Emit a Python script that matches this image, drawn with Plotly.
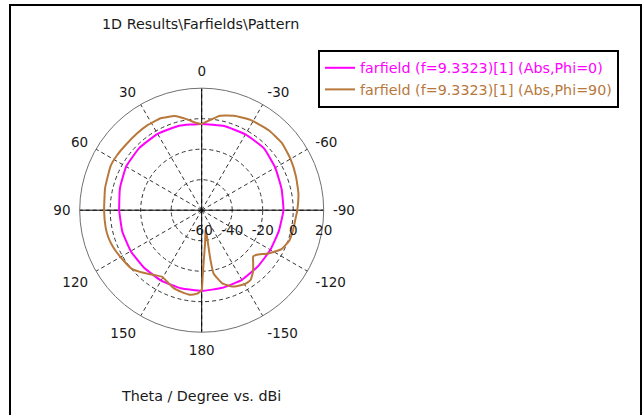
import plotly.graph_objects as go

# ---------------- data ----------------
phi0_theta = [-180, -165, -150, -135, -120, -105, -90, -75, -60, -45, -30, -15,
              0, 15, 30, 45, 60, 75, 90, 105, 120, 135, 150, 165, 180]
phi0_gain = [-7.1, -7.3, -7.3, -7.9, -8.0, -7.6, -6.4, -5.8, -4.3, -2.4, -2.6, -2.9,
             -3.4, -2.7, -2.2, -2.2, -2.8, -4.5, -5.9, -6.1, -6.3, -6.6, -6.7, -7.0, -7.1]

phi90_theta = [-180, -179.3, -178, -174.3, -167.6, -170, -169.4, -164.3, -158.1, -150,
               -145, -140, -136, -132, -129, -123, -116, -109, -102, -95,
               -90, -80, -70, -60, -50, -40, -29, -19, -11, -5,
               0, 4, 9, 16, 24, 32, 40, 49, 57, 64,
               77, 90, 100, 106, 112, 120, 130, 137, 145, 149,
               154, 160, 166, 172, 177, 180]
phi90_gain = [-7.7, -15.3, -25.0, -37.9, -48.0, -27.7, -17.8, -10.2, -6.0, -3.9,
              -4.1, -7.6, -11.4, -14.6, -13.6, -7.9, -1.7, 0.8, 1.3, 1.8,
              2.7, 4.4, 5.7, 7.2, 8.6, 8.4, 7.4, 5.5, 3.1, -0.8,
              -3.4, -2.5, 0.3, 4.2, 6.0, 6.1, 5.8, 5.7, 6.2, 6.4,
              5.0, 4.0, 4.0, 3.8, 3.0, 1.5, -0.2, -3.9, -7.8, -9.2,
              -8.0, -5.8, -4.8, -4.0, -5.2, -7.7]

series_names = ["farfield (f=9.3323)[1] (Abs,Phi=0)",
                "farfield (f=9.3323)[1] (Abs,Phi=90)"]
series_colors = ["#FF00FF", "#B8783C"]

angular_tickvals = [0, 30, 60, 90, 120, 150, 180, 210, 240, 270, 300, 330]
angular_ticktext = ["0", "30", "60", "90", "120", "150", "180",
                    "-150", "-120", "-90", "-60", "-30"]
radial_tickvals = [-60, -40, -20, 0, 20]
radial_ticktext = ["-60", "-40", "-20", "0", "20"]
R_MIN, R_MAX = -60, 20

title_text = "1D Results\\Farfields\\Pattern"
footer_text = "Theta / Degree vs. dBi"

# ---------------- figure ----------------
W, H = 644, 415
FONT = "DejaVu Sans"
TXT = "#1a1a1a"
TXT_SIZE = 14.3
TICK_SIZE = 13.5

fig = go.Figure()

# solid axis cross (0-180 and 90/-90 lines)
fig.add_trace(go.Scatterpolar(r=[R_MAX, R_MIN, R_MAX], theta=[0, 0, 180], mode="lines",
                              line=dict(color="#000000", width=1),
                              showlegend=False, hoverinfo="skip"))
fig.add_trace(go.Scatterpolar(r=[R_MAX, R_MIN, R_MAX], theta=[90, 90, 270], mode="lines",
                              line=dict(color="#000000", width=1),
                              showlegend=False, hoverinfo="skip"))

for name, col, th, g in [(series_names[0], series_colors[0], phi0_theta, phi0_gain),
                         (series_names[1], series_colors[1], phi90_theta, phi90_gain)]:
    fig.add_trace(go.Scatterpolar(
        r=g, theta=th, mode="lines",
        name=f'<span style="color:{col}">{name}</span>',
        line=dict(color=col, width=2, shape="spline", smoothing=0.4)))

cx, cy, rad = 201.7, 210.2, 122
fig.update_layout(
    width=W, height=H,
    margin=dict(l=0, r=0, t=0, b=0),
    paper_bgcolor="white",
    font=dict(family=FONT, size=TXT_SIZE, color=TXT),
    polar=dict(
        domain=dict(x=[(cx - rad) / W, (cx + rad) / W],
                    y=[(H - cy - rad) / H, (H - cy + rad) / H]),
        bgcolor="white",
        angularaxis=dict(rotation=90, direction="counterclockwise",
                         tickmode="array", tickvals=angular_tickvals,
                         ticktext=angular_ticktext,
                         showline=True, linecolor="#707070", linewidth=1,
                         ticks="outside", ticklen=6, tickcolor="rgba(0,0,0,0)",
                         gridcolor="#333333", griddash="4px,3px", gridwidth=1,
                         tickfont=dict(family=FONT, size=TICK_SIZE, color=TXT)),
        radialaxis=dict(range=[R_MIN, R_MAX], tickmode="array",
                        tickvals=radial_tickvals, ticktext=radial_ticktext,
                        angle=0, side="clockwise",
                        tickangle=0, showline=False,
                        ticks="outside", ticklen=8, tickcolor="rgba(0,0,0,0)",
                        gridcolor="#333333", griddash="4px,3px", gridwidth=1,
                        tickfont=dict(family=FONT, size=TICK_SIZE, color=TXT)),
    ),
    legend=dict(x=318 / W, y=1 - 50 / H, xanchor="left", yanchor="top",
                bordercolor="#000000", borderwidth=2, bgcolor="white",
                font=dict(family=FONT, size=TXT_SIZE), itemwidth=30,
                tracegroupgap=0),
    showlegend=True,
    annotations=[
        dict(text=title_text, x=200.5 / W, y=1 - 24 / H, xref="paper", yref="paper",
             xanchor="center", yanchor="middle", showarrow=False,
             font=dict(family=FONT, size=TXT_SIZE, color=TXT)),
        dict(text=footer_text, x=201 / W, y=1 - 396 / H, xref="paper", yref="paper",
             xanchor="center", yanchor="middle", showarrow=False,
             font=dict(family=FONT, size=TXT_SIZE, color=TXT)),
    ],
    shapes=[dict(type="rect", xref="paper", yref="paper",
                 x0=10 / W, x1=641 / W, y0=-0.05, y1=1 - 5 / H,
                 line=dict(color="#000000", width=2))],
)

fig.write_html("out.html", config={"displayModeBar": False},
               post_script="document.body.style.margin='0px';document.body.style.overflow='hidden';")
